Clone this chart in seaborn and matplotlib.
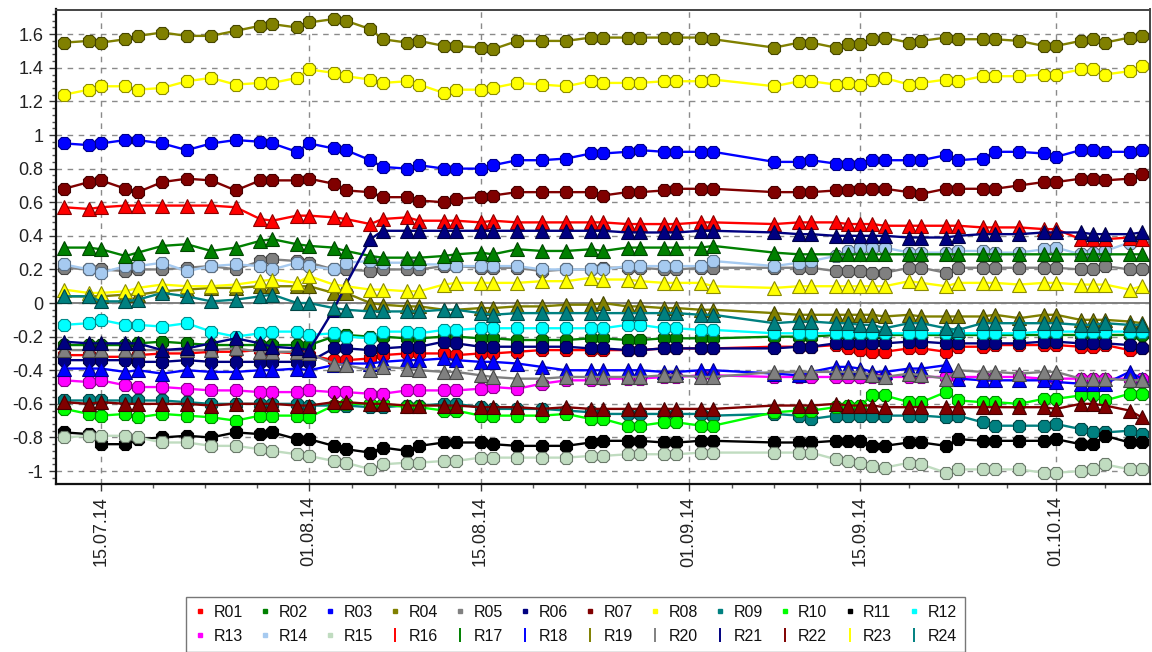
import matplotlib
matplotlib.use("Agg")
import numpy as np
import pandas as pd
import matplotlib.pyplot as plt
import matplotlib.dates as mdates
from matplotlib.lines import Line2D
from matplotlib.ticker import FixedLocator, MultipleLocator, FuncFormatter
from matplotlib.colors import to_rgb
import seaborn as sns

# ---------------------------------------------------------------- data
dates = [
    "2014-07-12", "2014-07-14", "2014-07-15", "2014-07-17", "2014-07-18", "2014-07-20",
    "2014-07-22", "2014-07-24", "2014-07-26", "2014-07-28", "2014-07-29", "2014-07-31",
    "2014-08-01", "2014-08-03", "2014-08-04", "2014-08-06", "2014-08-07",
    "2014-08-09", "2014-08-10", "2014-08-12", "2014-08-13", "2014-08-15", "2014-08-16",
    "2014-08-18", "2014-08-20", "2014-08-22", "2014-08-24", "2014-08-25", "2014-08-27",
    "2014-08-28", "2014-08-30", "2014-08-31", "2014-09-02", "2014-09-03", "2014-09-08",
    "2014-09-10", "2014-09-11", "2014-09-13", "2014-09-14", "2014-09-15", "2014-09-16",
    "2014-09-17", "2014-09-19", "2014-09-20", "2014-09-22", "2014-09-23", "2014-09-25",
    "2014-09-26", "2014-09-28", "2014-09-30", "2014-10-01", "2014-10-03", "2014-10-04",
    "2014-10-05", "2014-10-07", "2014-10-08",
]

R01 = [-0.31, -0.31, -0.32, -0.32, -0.31, -0.30, -0.30, -0.29, -0.29, -0.28, -0.29, -0.30, -0.31, -0.34, -0.34, -0.33, -0.31,
       -0.30, -0.30, -0.30, -0.31, -0.30, -0.30, -0.29, -0.28, -0.28, -0.28, -0.28, -0.28, -0.28, -0.27, -0.27, -0.27, -0.27, -0.26,
       -0.26, -0.26, -0.25, -0.27, -0.28, -0.29, -0.29, -0.27, -0.27, -0.29, -0.26, -0.26, -0.25, -0.25, -0.25, -0.25, -0.26, -0.26, -0.25, -0.28, -0.27]
R02 = [-0.25, -0.25, -0.25, -0.25, -0.24, -0.23, -0.24, -0.25, -0.25, -0.25, -0.25, -0.25, -0.25, -0.20, -0.19, -0.20, -0.20,
       -0.21, -0.21, -0.20, -0.20, -0.21, -0.21, -0.22, -0.22, -0.22, -0.21, -0.21, -0.22, -0.22, -0.21, -0.21, -0.21, -0.21, -0.20,
       -0.20, -0.20, -0.19, -0.19, -0.19, -0.19, -0.19, -0.19, -0.19, -0.19, -0.19, -0.19, -0.19, -0.19, -0.19, -0.19, -0.19, -0.19, -0.19, -0.19, -0.19]
R03 = [0.95, 0.94, 0.95, 0.97, 0.97, 0.95, 0.91, 0.95, 0.97, 0.96, 0.95, 0.90, 0.95, 0.92, 0.91, 0.85, 0.81,
       0.80, 0.82, 0.80, 0.80, 0.80, 0.82, 0.85, 0.85, 0.86, 0.89, 0.89, 0.90, 0.91, 0.90, 0.90, 0.90, 0.90, 0.84,
       0.84, 0.85, 0.83, 0.83, 0.83, 0.85, 0.85, 0.85, 0.85, 0.88, 0.85, 0.86, 0.90, 0.90, 0.89, 0.87, 0.91, 0.91, 0.90, 0.90, 0.91]
R04 = [1.55, 1.56, 1.55, 1.57, 1.59, 1.61, 1.59, 1.59, 1.62, 1.65, 1.66, 1.64, 1.67, 1.69, 1.68, 1.63, 1.57,
       1.55, 1.56, 1.53, 1.53, 1.52, 1.51, 1.56, 1.56, 1.56, 1.58, 1.58, 1.58, 1.58, 1.58, 1.58, 1.58, 1.57, 1.52,
       1.55, 1.55, 1.52, 1.54, 1.54, 1.57, 1.58, 1.55, 1.56, 1.58, 1.57, 1.57, 1.57, 1.56, 1.53, 1.53, 1.56, 1.57, 1.55, 1.58, 1.59]
R05 = [0.21, 0.20, 0.20, 0.19, 0.20, 0.20, 0.21, 0.22, 0.20, 0.25, 0.26, 0.25, 0.24, 0.20, 0.20, 0.19, 0.20,
       0.20, 0.20, 0.22, 0.22, 0.21, 0.21, 0.21, 0.19, 0.20, 0.20, 0.21, 0.21, 0.21, 0.20, 0.20, 0.21, 0.21, 0.21,
       0.21, 0.21, 0.19, 0.19, 0.19, 0.18, 0.18, 0.21, 0.21, 0.18, 0.21, 0.21, 0.21, 0.21, 0.21, 0.21, 0.20, 0.20, 0.22, 0.20, 0.20]
R06 = [-0.34, -0.34, -0.34, -0.34, -0.35, -0.35, -0.34, -0.35, -0.35, -0.35, -0.35, -0.35, -0.35, -0.27, -0.27, -0.28, -0.27,
       -0.26, -0.26, -0.23, -0.24, -0.26, -0.26, -0.26, -0.26, -0.26, -0.27, -0.27, -0.28, -0.28, -0.27, -0.27, -0.27, -0.27, -0.27,
       -0.26, -0.26, -0.24, -0.24, -0.24, -0.24, -0.24, -0.23, -0.23, -0.24, -0.24, -0.24, -0.24, -0.24, -0.23, -0.23, -0.24, -0.24, -0.24, -0.25, -0.27]
R07 = [0.68, 0.72, 0.73, 0.68, 0.66, 0.72, 0.74, 0.73, 0.67, 0.73, 0.73, 0.73, 0.74, 0.71, 0.67, 0.66, 0.63,
       0.63, 0.61, 0.60, 0.62, 0.63, 0.64, 0.66, 0.66, 0.66, 0.66, 0.64, 0.66, 0.66, 0.67, 0.68, 0.68, 0.68, 0.66,
       0.66, 0.66, 0.67, 0.67, 0.68, 0.68, 0.68, 0.66, 0.65, 0.68, 0.68, 0.68, 0.68, 0.70, 0.72, 0.72, 0.74, 0.74, 0.73, 0.74, 0.77]
R08 = [1.24, 1.27, 1.29, 1.29, 1.27, 1.28, 1.32, 1.34, 1.30, 1.31, 1.31, 1.34, 1.39, 1.37, 1.35, 1.33, 1.31,
       1.32, 1.30, 1.25, 1.27, 1.27, 1.28, 1.31, 1.30, 1.29, 1.32, 1.31, 1.31, 1.31, 1.32, 1.32, 1.32, 1.33, 1.29,
       1.32, 1.32, 1.30, 1.31, 1.30, 1.33, 1.34, 1.30, 1.31, 1.33, 1.32, 1.35, 1.35, 1.35, 1.36, 1.36, 1.39, 1.39, 1.36, 1.38, 1.41]
R09 = [-0.58, -0.58, -0.58, -0.58, -0.58, -0.58, -0.59, -0.60, -0.60, -0.60, -0.60, -0.60, -0.61, -0.61, -0.61, -0.62, -0.62,
       -0.61, -0.61, -0.60, -0.60, -0.62, -0.63, -0.63, -0.63, -0.64, -0.65, -0.66, -0.66, -0.66, -0.66, -0.66, -0.66, -0.67, -0.66,
       -0.67, -0.69, -0.67, -0.67, -0.67, -0.67, -0.67, -0.67, -0.67, -0.68, -0.67, -0.71, -0.73, -0.73, -0.73, -0.72, -0.75, -0.77, -0.77, -0.76, -0.78]
R10 = [-0.63, -0.66, -0.67, -0.66, -0.68, -0.66, -0.67, -0.68, -0.70, -0.67, -0.67, -0.67, -0.68, -0.61, -0.60, -0.60, -0.60,
       -0.62, -0.62, -0.64, -0.64, -0.67, -0.67, -0.67, -0.67, -0.66, -0.69, -0.69, -0.73, -0.73, -0.71, -0.71, -0.73, -0.73, -0.65,
       -0.64, -0.64, -0.62, -0.61, -0.61, -0.55, -0.55, -0.59, -0.59, -0.53, -0.58, -0.59, -0.59, -0.60, -0.57, -0.57, -0.55, -0.55, -0.58, -0.54, -0.54]
R11 = [-0.77, -0.78, -0.84, -0.84, -0.81, -0.80, -0.79, -0.80, -0.77, -0.78, -0.77, -0.81, -0.81, -0.85, -0.87, -0.89, -0.86,
       -0.88, -0.85, -0.83, -0.83, -0.83, -0.84, -0.85, -0.85, -0.85, -0.83, -0.82, -0.82, -0.82, -0.83, -0.83, -0.82, -0.82, -0.83,
       -0.83, -0.83, -0.82, -0.82, -0.82, -0.85, -0.85, -0.83, -0.83, -0.85, -0.81, -0.82, -0.82, -0.82, -0.82, -0.81, -0.84, -0.84, -0.79, -0.83, -0.83]
R12 = [-0.13, -0.12, -0.10, -0.13, -0.13, -0.14, -0.12, -0.17, -0.20, -0.18, -0.17, -0.17, -0.19, -0.18, -0.20, -0.21, -0.17,
       -0.17, -0.18, -0.16, -0.16, -0.15, -0.15, -0.15, -0.15, -0.15, -0.15, -0.15, -0.13, -0.13, -0.15, -0.15, -0.16, -0.16, -0.18,
       -0.18, -0.18, -0.18, -0.18, -0.18, -0.18, -0.18, -0.18, -0.18, -0.18, -0.18, -0.18, -0.18, -0.18, -0.17, -0.17, -0.17, -0.17, -0.17, -0.17, -0.17]
R13 = [-0.46, -0.47, -0.46, -0.49, -0.50, -0.50, -0.51, -0.52, -0.52, -0.53, -0.53, -0.53, -0.52, -0.53, -0.53, -0.54, -0.54,
       -0.52, -0.52, -0.52, -0.52, -0.51, -0.50, -0.51, -0.48, -0.46, -0.46, -0.45, -0.45, -0.45, -0.44, -0.44, -0.43, -0.43, -0.44,
       -0.44, -0.44, -0.44, -0.44, -0.44, -0.44, -0.44, -0.44, -0.44, -0.44, -0.44, -0.44, -0.44, -0.44, -0.45, -0.45, -0.45, -0.45, -0.45, -0.45, -0.45]
R14 = [0.23, 0.20, 0.18, 0.22, 0.22, 0.24, 0.19, 0.22, 0.23, 0.22, 0.20, 0.24, 0.22, 0.20, 0.24, 0.25, 0.24,
       0.24, 0.23, 0.23, 0.22, 0.22, 0.22, 0.22, 0.20, 0.20, 0.20, 0.20, 0.22, 0.22, 0.22, 0.22, 0.22, 0.25, 0.22,
       0.24, 0.25, 0.28, 0.31, 0.33, 0.33, 0.33, 0.30, 0.30, 0.30, 0.31, 0.31, 0.30, 0.30, 0.32, 0.33, 0.29, 0.30, 0.31, 0.36, 0.38]
R15 = [-0.80, -0.79, -0.79, -0.79, -0.80, -0.83, -0.83, -0.85, -0.85, -0.87, -0.88, -0.90, -0.91, -0.94, -0.95, -0.99, -0.96,
       -0.95, -0.95, -0.94, -0.94, -0.92, -0.92, -0.92, -0.92, -0.92, -0.91, -0.91, -0.90, -0.90, -0.90, -0.90, -0.89, -0.89, -0.89,
       -0.89, -0.89, -0.93, -0.94, -0.95, -0.97, -0.98, -0.95, -0.96, -1.01, -0.99, -0.99, -0.99, -0.99, -1.01, -1.01, -1.00, -0.99, -0.96, -0.99, -0.99]
R16 = [0.57, 0.56, 0.57, 0.58, 0.58, 0.58, 0.58, 0.58, 0.57, 0.50, 0.49, 0.52, 0.52, 0.51, 0.50, 0.47, 0.50,
       0.51, 0.49, 0.49, 0.49, 0.48, 0.49, 0.48, 0.48, 0.48, 0.48, 0.48, 0.47, 0.47, 0.47, 0.47, 0.48, 0.48, 0.47,
       0.48, 0.48, 0.48, 0.47, 0.47, 0.47, 0.46, 0.46, 0.46, 0.46, 0.46, 0.45, 0.45, 0.45, 0.44, 0.44, 0.38, 0.38, 0.38, 0.39, 0.38]
R17 = [0.33, 0.33, 0.32, 0.28, 0.30, 0.34, 0.35, 0.31, 0.33, 0.37, 0.38, 0.35, 0.34, 0.33, 0.31, 0.28, 0.27,
       0.27, 0.27, 0.28, 0.29, 0.30, 0.29, 0.32, 0.31, 0.31, 0.32, 0.31, 0.33, 0.33, 0.33, 0.33, 0.33, 0.34, 0.30,
       0.29, 0.29, 0.29, 0.29, 0.29, 0.29, 0.29, 0.29, 0.29, 0.29, 0.29, 0.29, 0.29, 0.29, 0.29, 0.29, 0.29, 0.29, 0.29, 0.29, 0.29]
R18 = [-0.39, -0.39, -0.39, -0.41, -0.40, -0.42, -0.40, -0.41, -0.41, -0.40, -0.40, -0.39, -0.40, -0.37, -0.36, -0.36, -0.35,
       -0.34, -0.34, -0.33, -0.34, -0.35, -0.35, -0.36, -0.38, -0.40, -0.40, -0.40, -0.40, -0.40, -0.41, -0.41, -0.40, -0.40, -0.42,
       -0.43, -0.41, -0.38, -0.38, -0.39, -0.41, -0.41, -0.39, -0.39, -0.37, -0.45, -0.46, -0.46, -0.46, -0.46, -0.47, -0.48, -0.48, -0.48, -0.41, -0.45]
R19 = [0.04, 0.04, 0.04, 0.05, 0.05, 0.07, 0.08, 0.09, 0.09, 0.10, 0.10, 0.10, 0.10, 0.06, 0.06, 0.00, -0.01,
       -0.02, -0.02, -0.04, -0.04, -0.03, -0.03, -0.02, -0.02, -0.01, -0.01, 0.00, -0.02, -0.02, -0.03, -0.03, -0.04, -0.04, -0.06,
       -0.07, -0.07, -0.07, -0.07, -0.07, -0.07, -0.08, -0.07, -0.08, -0.08, -0.08, -0.08, -0.07, -0.09, -0.07, -0.07, -0.10, -0.10, -0.10, -0.11, -0.12]
R20 = [-0.28, -0.28, -0.28, -0.28, -0.28, -0.28, -0.28, -0.28, -0.27, -0.29, -0.29, -0.29, -0.30, -0.36, -0.37, -0.40, -0.38,
       -0.39, -0.40, -0.41, -0.41, -0.43, -0.44, -0.45, -0.45, -0.44, -0.44, -0.44, -0.44, -0.44, -0.43, -0.43, -0.44, -0.44, -0.41,
       -0.41, -0.41, -0.41, -0.41, -0.41, -0.43, -0.44, -0.42, -0.43, -0.45, -0.40, -0.41, -0.41, -0.42, -0.41, -0.41, -0.45, -0.45, -0.45, -0.46, -0.46]
R21 = [-0.23, -0.24, -0.24, -0.24, -0.24, -0.28, -0.27, -0.24, -0.21, -0.24, -0.26, -0.27, -0.28, -0.04, 0.11, 0.38, 0.43,
       0.43, 0.43, 0.43, 0.43, 0.43, 0.43, 0.43, 0.43, 0.43, 0.43, 0.43, 0.42, 0.42, 0.42, 0.42, 0.43, 0.43, 0.42,
       0.41, 0.41, 0.40, 0.40, 0.40, 0.40, 0.40, 0.39, 0.39, 0.39, 0.40, 0.41, 0.41, 0.41, 0.42, 0.42, 0.42, 0.41, 0.41, 0.41, 0.42]
R22 = [-0.59, -0.60, -0.59, -0.60, -0.60, -0.60, -0.60, -0.61, -0.60, -0.60, -0.60, -0.61, -0.61, -0.59, -0.59, -0.60, -0.60,
       -0.61, -0.61, -0.61, -0.61, -0.62, -0.62, -0.62, -0.63, -0.62, -0.63, -0.63, -0.63, -0.63, -0.63, -0.63, -0.63, -0.63, -0.61,
       -0.61, -0.61, -0.60, -0.61, -0.61, -0.61, -0.62, -0.62, -0.62, -0.62, -0.62, -0.62, -0.62, -0.62, -0.62, -0.63, -0.60, -0.60, -0.61, -0.64, -0.68]
R23 = [0.08, 0.06, 0.06, 0.07, 0.09, 0.11, 0.10, 0.10, 0.11, 0.13, 0.14, 0.12, 0.16, 0.11, 0.10, 0.08, 0.08,
       0.07, 0.07, 0.11, 0.12, 0.12, 0.12, 0.12, 0.13, 0.13, 0.15, 0.14, 0.14, 0.13, 0.12, 0.12, 0.12, 0.10, 0.09,
       0.10, 0.10, 0.10, 0.10, 0.10, 0.10, 0.10, 0.13, 0.12, 0.10, 0.12, 0.12, 0.12, 0.11, 0.12, 0.12, 0.11, 0.11, 0.11, 0.08, 0.10]
R24 = [0.04, 0.04, 0.01, 0.01, 0.02, 0.06, 0.04, 0.01, 0.02, 0.04, 0.05, 0.00, 0.00, -0.03, -0.04, -0.05, -0.05,
       -0.05, -0.05, -0.04, -0.04, -0.06, -0.07, -0.06, -0.06, -0.06, -0.06, -0.06, -0.06, -0.06, -0.06, -0.06, -0.07, -0.07, -0.12,
       -0.11, -0.11, -0.12, -0.12, -0.13, -0.13, -0.15, -0.12, -0.12, -0.15, -0.16, -0.12, -0.12, -0.12, -0.12, -0.12, -0.13, -0.13, -0.12, -0.13, -0.13]

series = {
    "R01": R01, "R02": R02, "R03": R03, "R04": R04, "R05": R05, "R06": R06,
    "R07": R07, "R08": R08, "R09": R09, "R10": R10, "R11": R11, "R12": R12,
    "R13": R13, "R14": R14, "R15": R15, "R16": R16, "R17": R17, "R18": R18,
    "R19": R19, "R20": R20, "R21": R21, "R22": R22, "R23": R23, "R24": R24,
}

# 16-colour palette plus "sky blue" and "money green"; the second block repeats the first nine
base_colors = ["#FF0000", "#008000", "#0000FF", "#808000", "#808080", "#000080",
               "#800000", "#FFFF00", "#008080", "#00FF00", "#000000", "#00FFFF",
               "#FF00FF", "#A6CAF0", "#C0DCC0"]
colors = base_colors + base_colors[:9]

major_dates = ["2014-07-15", "2014-08-01", "2014-08-15", "2014-09-01", "2014-09-15", "2014-10-01"]


def darker(c, f=0.55):
    r, g, b = to_rgb(c)
    return (r * f, g * f, b * f)


# ---------------------------------------------------------------- figure
sns.set_theme(style="ticks")
plt.rcParams["font.family"] = ["Liberation Sans", "DejaVu Sans"]
plt.rcParams["axes.unicode_minus"] = False

W, H = 1152, 652
fig = plt.figure(figsize=(W / 100, H / 100), dpi=100)
fig.patch.set_facecolor("white")
ax = fig.add_axes([56 / W, 1 - 484 / H, (1150 - 56) / W, (484 - 9.5) / H])
ax.set_facecolor("white")

x = pd.to_datetime(dates)
for i, (name, vals) in enumerate(series.items()):
    c = colors[i]
    is_tri = i >= 15
    sns.lineplot(
        x=x, y=vals, ax=ax, color=c, linewidth=1.7,
        marker="^" if is_tri else "8",
        markersize=10.5 if is_tri else 10,
        markeredgecolor=darker(c), markeredgewidth=0.8,
        legend=False, zorder=3 + i * 0.01,
    )

# zero line
ax.axhline(0, color="#808080", linewidth=1.4, zorder=2)

# axes limits
t0 = mdates.date2num(pd.Timestamp("2014-07-15"))
ax.set_xlim(t0 - 3.675, t0 + 85.67)
ax.set_ylim(-1.077, 1.747)

# x ticks: majors on the 1st / 15th, four minor steps between
maj = [mdates.date2num(pd.Timestamp(d)) for d in major_dates]
minor = []
for a, b in zip(maj[:-1], maj[1:]):
    step = (b - a) / 4
    minor += [a + k * step for k in (1, 2, 3)]
minor.append(maj[-1] + (maj[-1] - maj[-2]) / 4)
ax.xaxis.set_major_locator(FixedLocator(maj))
ax.xaxis.set_minor_locator(FixedLocator(minor))
ax.xaxis.set_major_formatter(mdates.DateFormatter("%d.%m.%y"))

ax.yaxis.set_major_locator(MultipleLocator(0.2))
ax.yaxis.set_minor_locator(MultipleLocator(0.04))
ax.yaxis.set_major_formatter(FuncFormatter(lambda v, p: "%g" % round(v, 2)))

ax.tick_params(axis="both", which="major", direction="out", length=5, width=1,
               color="#333333", labelsize=13, labelcolor="#222222")
ax.tick_params(axis="both", which="minor", direction="out", length=3, width=1,
               color="#555555")
ax.tick_params(axis="x", which="major", labelrotation=90, pad=4)
ax.tick_params(axis="y", which="major", pad=4)

ax.grid(True, which="major", color="#8a8a8a", linestyle=(0, (4, 4)), linewidth=1.0, zorder=1)
ax.set_axisbelow(True)
ax.set_xlabel("")
ax.set_ylabel("")

for side in ("left", "bottom"):
    ax.spines[side].set_color("#111111")
    ax.spines[side].set_linewidth(1.6)
for side in ("top", "right"):
    ax.spines[side].set_color("#444444")
    ax.spines[side].set_linewidth(1.4)

# legend: two rows of twelve, filled row by row
names = list(series.keys())
handles = {}
for i, name in enumerate(names):
    c = colors[i]
    if i < 15:
        handles[name] = Line2D([], [], linestyle="none", marker="s", markersize=3,
                               markerfacecolor=c, markeredgecolor=c)
    else:
        handles[name] = Line2D([], [], linestyle="none", marker="|", markersize=10,
                               markeredgewidth=1.4, color=c)
ncol = 12
order = []
for col in range(ncol):
    order += [names[col], names[col + ncol]]
leg = fig.legend(
    [handles[n] for n in order], order, loc="upper center",
    bbox_to_anchor=(575.5 / W, 1 - 597 / H), bbox_transform=fig.transFigure,
    ncol=ncol, frameon=True, fancybox=False, edgecolor="#555555",
    fontsize=11.5, handlelength=0.8, handletextpad=0.45, columnspacing=0.98,
    borderpad=0.5, labelspacing=0.55, borderaxespad=0,
)
leg.get_frame().set_linewidth(1.0)
for t in leg.get_texts():
    t.set_color("#111111")

fig.savefig("out.png", dpi=100, facecolor="white")
